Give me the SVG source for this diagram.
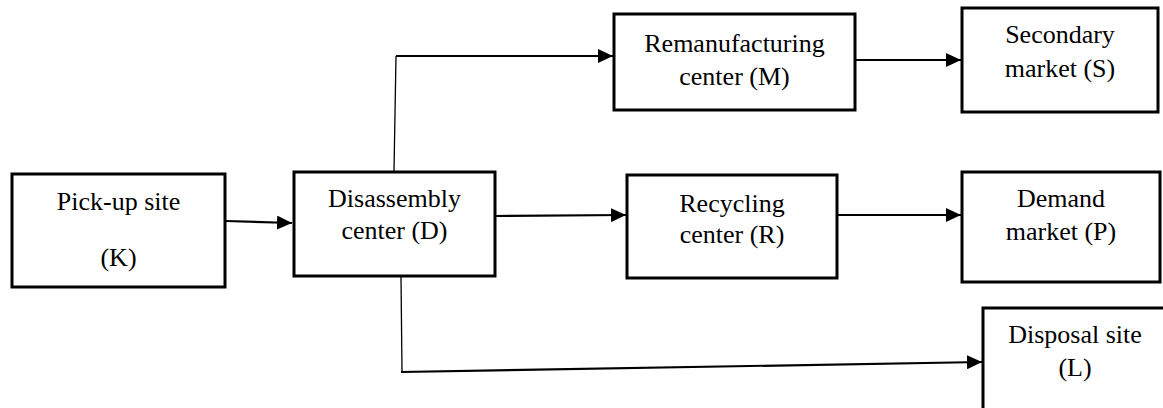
<svg xmlns="http://www.w3.org/2000/svg" width="1163" height="408" viewBox="0 0 1163 408">
<style>
.box{fill:#fff;stroke:#000;stroke-width:3}
.lbl{font-family:"Liberation Serif","Times New Roman",serif;font-size:26px;fill:#000;text-anchor:middle}
.ln{fill:none;stroke:#000;stroke-width:2.2}
.thin{fill:none;stroke:#000;stroke-width:1.3}
</style>
<defs>
<marker id="ah" markerUnits="userSpaceOnUse" markerWidth="16" markerHeight="14" refX="15" refY="7" orient="auto">
<path d="M0,0 L15,7 L0,14 z" fill="#000"/>
</marker>
</defs>
<rect width="1163" height="408" fill="#fff"/>
<g id="connectors">
<line class="ln" x1="226" y1="221" x2="292" y2="223" marker-end="url(#ah)"/>
<polyline class="thin" points="394,171 396,56"/>
<line class="ln" x1="396" y1="56" x2="613" y2="56" marker-end="url(#ah)"/>
<line class="ln" x1="855" y1="60" x2="961" y2="60" marker-end="url(#ah)"/>
<line class="ln" x1="495" y1="216" x2="626" y2="215" marker-end="url(#ah)"/>
<line class="ln" x1="837" y1="215" x2="961" y2="215" marker-end="url(#ah)"/>
<polyline class="thin" points="401,277 402,372"/>
<line class="ln" x1="401" y1="372" x2="982" y2="362" marker-end="url(#ah)" stroke-width="2.6"/>
</g>
<g id="node-K">
<rect class="box" x="12" y="174" width="213" height="113"/>
<text class="lbl" x="118.5" y="210">Pick-up site</text>
<text class="lbl" x="118.5" y="266">(K)</text>
</g>
<g id="node-D">
<rect class="box" x="294" y="172" width="201" height="104"/>
<text class="lbl" x="394.5" y="207">Disassembly</text>
<text class="lbl" x="394.5" y="239">center (D)</text>
</g>
<g id="node-M">
<rect class="box" x="614" y="14" width="241" height="96"/>
<text class="lbl" x="734.5" y="52">Remanufacturing</text>
<text class="lbl" x="734.5" y="85">center (M)</text>
</g>
<g id="node-S">
<rect class="box" x="962" y="8" width="196" height="104"/>
<text class="lbl" x="1060" y="43">Secondary</text>
<text class="lbl" x="1060" y="77">market (S)</text>
</g>
<g id="node-R">
<rect class="box" x="627" y="175" width="210" height="103"/>
<text class="lbl" x="732" y="212">Recycling</text>
<text class="lbl" x="732" y="243">center (R)</text>
</g>
<g id="node-P">
<rect class="box" x="962" y="172" width="198" height="110"/>
<text class="lbl" x="1061" y="207">Demand</text>
<text class="lbl" x="1061" y="240">market (P)</text>
</g>
<g id="node-L">
<rect class="box" x="983" y="308" width="200" height="120"/>
<text class="lbl" x="1075" y="343">Disposal site</text>
<text class="lbl" x="1075" y="376">(L)</text>
</g>
</svg>
